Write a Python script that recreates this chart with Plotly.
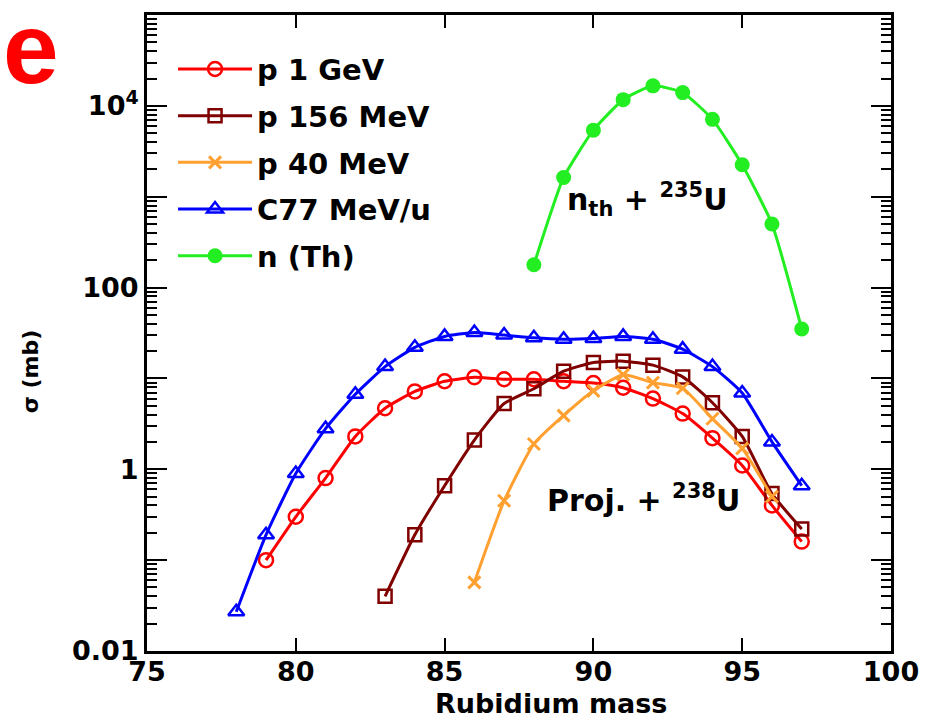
import plotly.graph_objects as go

# Rubidium isotope production cross sections (mb) vs mass number
mass_p1gev = [79, 80, 81, 82, 83, 84, 85, 86, 87, 88, 89, 90, 91, 92, 93, 94, 95, 96, 97]
sigma_p1gev = [0.1, 0.3, 0.8, 2.3, 4.7, 7.2, 9.3, 10.3, 9.8, 9.8, 9.3, 8.9, 7.9, 6.0, 4.1, 2.2, 1.1, 0.4, 0.16]

mass_p156 = [83, 84, 85, 86, 87, 88, 89, 90, 91, 92, 93, 94, 95, 96, 97]
sigma_p156 = [0.04, 0.19, 0.66, 2.1, 5.3, 7.7, 12, 15, 15.5, 14, 10.4, 5.4, 2.3, 0.54, 0.22]

mass_p40 = [86, 87, 88, 89, 90, 91, 92, 93, 94, 95, 96]
sigma_p40 = [0.057, 0.45, 1.9, 3.9, 7.3, 11, 9.0, 7.8, 3.6, 1.7, 0.5]

mass_c77 = [78, 79, 80, 81, 82, 83, 84, 85, 86, 87, 88, 89, 90, 91, 92, 93, 94, 95, 96, 97]
sigma_c77 = [0.027, 0.19, 0.9, 2.8, 6.7, 13.5, 22, 29, 32, 30, 28, 27, 27.5, 29, 27, 21, 13.5, 6.9, 2.0, 0.66]

mass_nth = [88, 89, 90, 91, 92, 93, 94, 95, 96, 97]
sigma_nth = [178, 1630, 5400, 11700, 16600, 14000, 7100, 2250, 500, 35]

x_ticks = [75, 80, 85, 90, 95, 100]
y_ticks = [0.01, 0.1, 1, 10, 100, 1000, 1e4, 1e5]
y_ticktext = ["0.01", "", "1", "", "100", "", "10<sup>4</sup>", ""]

FONT = "DejaVu Sans"

series = [
    ("p 1 GeV", mass_p1gev, sigma_p1gev, "#ff0000",
     dict(symbol="circle-open", size=14, line=dict(width=2.5, color="#ff0000"))),
    ("p 156 MeV", mass_p156, sigma_p156, "#800000",
     dict(symbol="square-open", size=13, line=dict(width=2.5, color="#800000"))),
    ("p 40 MeV", mass_p40, sigma_p40, "#ffa030",
     dict(symbol="x-thin-open", size=12, line=dict(width=3, color="#ffa030"))),
    ("C77 MeV/u", mass_c77, sigma_c77, "#0000ff",
     dict(symbol="triangle-up-open", size=14, line=dict(width=2.5, color="#0000ff"))),
    ("n (Th)", mass_nth, sigma_nth, "#22ee22",
     dict(symbol="circle", size=15, color="#22ee22", line=dict(width=0))),
]

fig = go.Figure()
for name, xs, ys, color, marker in series:
    fig.add_trace(go.Scatter(
        x=xs, y=ys, name=name, mode="lines+markers",
        line=dict(color=color, width=3, shape="spline", smoothing=0.5),
        marker=marker, legendgroup=name,
    ))

axis_font = dict(family=FONT, size=27, color="black", weight="bold")
text_font = dict(family=FONT, size=30, color="black", weight="bold")

fig.update_xaxes(
    range=[75, 100], tickmode="array", tickvals=x_ticks,
    ticks="inside", ticklen=13, tickwidth=2, tickcolor="black",
    showline=True, linewidth=3, linecolor="black", mirror="ticks",
    showgrid=False, zeroline=False, tickfont=axis_font, ticklabelstandoff=-5,
)
fig.update_yaxes(
    type="log", range=[-2, 5], tickmode="array", tickvals=y_ticks, ticktext=y_ticktext,
    ticks="inside", ticklen=20, tickwidth=2, tickcolor="black",
    minor=dict(ticks="inside", ticklen=10, tickwidth=2, tickcolor="black",
               dtick="D1", showgrid=False),
    showline=True, linewidth=3, linecolor="black", mirror="ticks",
    showgrid=False, zeroline=False, tickfont=axis_font,
)

fig.update_layout(
    width=941, height=721,
    margin=dict(l=147, r=50, t=12, b=70),
    paper_bgcolor="white", plot_bgcolor="white",
    showlegend=True,
    legend=dict(
        x=0.035, y=0.955, xanchor="left", yanchor="top",
        font=dict(family=FONT, size=29, color="black", weight="bold"),
        bgcolor="rgba(0,0,0,0)", tracegroupgap=6, itemwidth=74,
    ),
    annotations=[
        dict(text="e", xref="paper", yref="paper", x=-0.156, y=1.04,
             xanchor="center", yanchor="top", showarrow=False,
             font=dict(family="Liberation Sans", size=100, color="#ff0000", weight="bold")),
        dict(text="n<sub>th</sub> + <sup>235</sup>U", xref="paper", yref="paper",
             x=0.673, y=0.71, xanchor="center", yanchor="middle", showarrow=False,
             font=text_font),
        dict(text="Proj. + <sup>238</sup>U", xref="paper", yref="paper",
             x=0.667, y=0.24, xanchor="center", yanchor="middle", showarrow=False,
             font=text_font),
        dict(text="Rubidium mass", xref="paper", yref="paper",
             x=0.543, y=-0.082, xanchor="center", yanchor="middle", showarrow=False,
             font=dict(family=FONT, size=27, color="black", weight="bold")),
        dict(text="σ (mb)", xref="paper", yref="paper", textangle=-90,
             x=-0.157, y=0.44, xanchor="center", yanchor="middle", showarrow=False,
             font=dict(family=FONT, size=22, color="black", weight="bold")),
    ],
)

fig.write_html("out.html")
